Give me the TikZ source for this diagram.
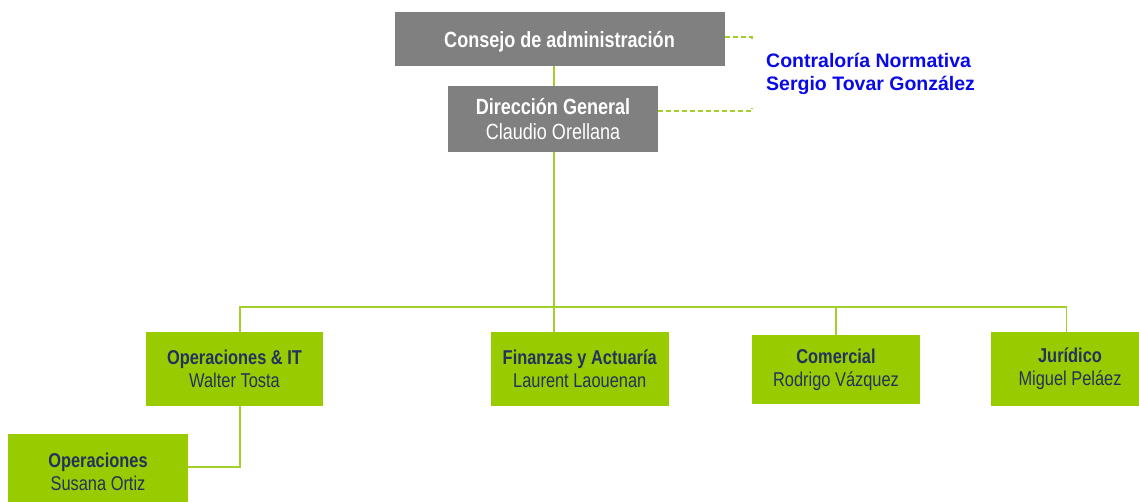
\documentclass[tikz,border=0pt]{standalone}
\usepackage{fontspec}
\setmainfont{Liberation Sans}
\newfontfamily\narrowfont[FakeStretch=0.82]{Liberation Sans}
\definecolor{boxgrey}{HTML}{808080}
\definecolor{boxgreen}{HTML}{99CC00}
\definecolor{linegreen}{HTML}{A4CF2A}
\definecolor{navy}{HTML}{22335E}
\definecolor{ctrlblue}{HTML}{0A0AE6}
\tikzset{
  greybox/.style={fill=boxgrey, draw=none, inner sep=0pt, outer sep=0pt, align=center,
    text=white, font=\narrowfont\fontsize{22}{25}\selectfont},
  greenbox/.style={fill=boxgreen, draw=none, inner sep=0pt, outer sep=0pt, align=center,
    text=navy, font=\narrowfont\fontsize{20}{23}\selectfont},
  conn/.style={draw=linegreen, line width=1.8pt},
  dashconn/.style={draw=linegreen, line width=1.6pt, dash pattern=on 5pt off 3pt},
}
\begin{document}
\begin{tikzpicture}[x=1pt,y=-1pt]
\useasboundingbox (0,0) rectangle (1139,501);
\clip (0,0) rectangle (1139,501);
\fill[white] (0,0) rectangle (1139,501);
% coordinates for connector routing
\coordinate (t) at (554,307);
\coordinate (b1) at (240,307);
\coordinate (b4) at (1066.5,307);
\coordinate (sub) at (240,467);
\coordinate (d1) at (752,37);
\coordinate (d2) at (752,111);
% nodes
\node[greybox, minimum width=330pt, minimum height=54pt, text depth=0pt] (cons) at (559.5,39) {\bfseries Consejo de administración};
\node[greybox, minimum width=210pt, minimum height=66pt] (dir) at (553,119) {{\bfseries Dirección General}\\Claudio Orellana};
\node[greenbox, minimum width=177pt, minimum height=74pt] (opit) at (234.5,368.7) {{\bfseries Operaciones \& IT}\\Walter Tosta};
\node[greenbox, minimum width=178.5pt, minimum height=74pt] (fin) at (579.75,368.7) {{\bfseries Finanzas y Actuaría}\\Laurent Laouenan};
\node[greenbox, minimum width=168pt, minimum height=69pt] (com) at (836,369.5) {{\bfseries Comercial}\\Rodrigo Vázquez};
\node[greenbox, minimum width=158pt, minimum height=74pt] (jur) at (1070,368.7) {{\bfseries Jurídico}\\Miguel Peláez};
\node[greenbox, minimum width=180pt, minimum height=75pt] (ops) at (98,471.5) {{\bfseries Operaciones}\\Susana Ortiz};
\node[anchor=west, align=left, inner sep=0pt, text=ctrlblue, font=\bfseries\fontsize{19.5}{23}\selectfont] (ctrl) at (766,73.5) {Contraloría Normativa\\Sergio Tovar González};
% connectors
\draw[conn] (cons.south -| t) -- (dir.north -| t);
\draw[dashconn] (cons.east |- d1) -- (d1) -- ++(0,3);
\draw[dashconn] (dir.east |- d2) -- (d2) -- ++(0,-3);
\draw[conn] (dir.south -| t) -- (fin.north -| t);
\draw[conn] (opit.north -| b1) -- (b1) -- (b4) -- (jur.north -| b4);
\draw[conn] (com.north) -- (com.north |- b1);
\draw[conn] (opit.south -| sub) -- (sub) -- (sub -| ops.east);
\end{tikzpicture}
\end{document}
